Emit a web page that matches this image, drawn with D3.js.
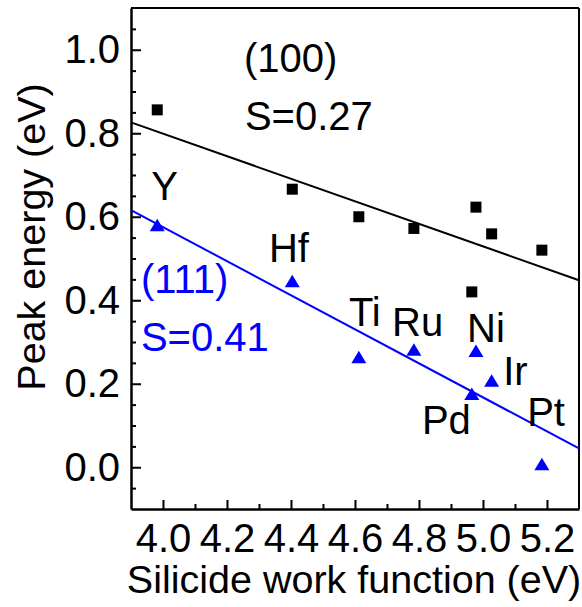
<!DOCTYPE html>
<html>
<head>
<meta charset="utf-8">
<script src="https://cdn.jsdelivr.net/npm/d3@7/dist/d3.min.js"></script>
<style>
  html, body { margin: 0; padding: 0; background: #fff; }
  svg { display: block; font-family: "Liberation Sans", Arial, Helvetica, sans-serif; }
</style>
</head>
<body>
<svg id="chart" width="582" height="607"></svg>
<script>
// ---- data ----
const metals        = ["Y", "Hf", "Ti", "Ru", "Pd", "Ni", "Ir", "Pt"];
const workFunction  = [3.982, 4.404, 4.612, 4.784, 4.965, 4.978, 5.027, 5.184];
const peak100       = [0.856, 0.666, 0.600, 0.572, 0.420, 0.623, 0.559, 0.520];
const peak111       = [0.575, 0.441, 0.259, 0.277, 0.171, 0.274, 0.203, 0.003];
const fit100        = [[3.9, 0.826], [5.3, 0.448]];
const fit111        = [[3.9, 0.616], [5.3, 0.045]];
const xTicks        = [4.0, 4.2, 4.4, 4.6, 4.8, 5.0, 5.2];
const xMinorTicks   = [4.1, 4.3, 4.5, 4.7, 4.9, 5.1];
const yTicks        = [0.0, 0.2, 0.4, 0.6, 0.8, 1.0];
const yMinorTicks   = [-0.05, 0.05, 0.1, 0.15, 0.25, 0.3, 0.35, 0.45, 0.5, 0.55, 0.65, 0.7, 0.75, 0.85, 0.9, 0.95, 1.05];
const xDomain       = [3.9, 5.3];
const yDomain       = [-0.1, 1.1];
const xTitle        = "Silicide work function (eV)";
const yTitle        = "Peak energy (eV)";
// label texts with anchor positions in data units
const labelText     = ["(100)", "S=0.27", "(111)", "S=0.41", "Y", "Hf", "Ti", "Ru", "Ni", "Ir", "Pd", "Pt"];
const labelX        = [4.253, 4.256, 3.931, 3.931, 3.963, 4.331, 4.581, 4.716, 4.950, 5.063, 4.809, 5.138];
const labelY        = [0.947, 0.808, 0.417, 0.278, 0.641, 0.492, 0.338, 0.314, 0.300, 0.197, 0.080, 0.099];
const labelSeries   = ["100", "100", "111", "111", "m", "m", "m", "m", "m", "m", "m", "m"];

// ---- layout ----
const mLeft = 131, mRight = 579, mTop = 8, mBottom = 509;
const svg = d3.select("#chart");
const x = d3.scaleLinear().domain(xDomain).range([mLeft, mRight]);
const y = d3.scaleLinear().domain(yDomain).range([mBottom, mTop]);
const BLUE = "#0000ff";
const FS = 40;

// frame (top & right)
svg.append("line").attr("x1", mLeft).attr("x2", mRight).attr("y1", mTop).attr("y2", mTop)
  .attr("stroke", "#000").attr("stroke-width", 2);
svg.append("line").attr("x1", mRight).attr("x2", mRight).attr("y1", mTop).attr("y2", mBottom)
  .attr("stroke", "#000").attr("stroke-width", 2);

// x axis major
const gx = svg.append("g").attr("transform", `translate(0,${mBottom})`)
  .call(d3.axisBottom(x).tickValues(xTicks).tickFormat(d3.format(".1f"))
    .tickSizeInner(-9).tickSizeOuter(0).tickPadding(15));
gx.select(".domain").attr("stroke-width", 2.5);
gx.selectAll(".tick line").attr("stroke-width", 2);
gx.selectAll(".tick text").attr("font-size", FS).attr("font-family", "Liberation Sans, Arial, sans-serif")
  .attr("fill", "#000").attr("dy", "0.71em");
// x axis minor
const gxm = svg.append("g").attr("transform", `translate(0,${mBottom})`)
  .call(d3.axisBottom(x).tickValues(xMinorTicks).tickFormat("").tickSizeInner(-5).tickSizeOuter(0));
gxm.select(".domain").remove();
gxm.selectAll(".tick line").attr("stroke-width", 2);

// y axis major
const gy = svg.append("g").attr("transform", `translate(${mLeft},0)`)
  .call(d3.axisLeft(y).tickValues(yTicks).tickFormat(d3.format(".1f"))
    .tickSizeInner(-10).tickSizeOuter(0).tickPadding(11));
gy.select(".domain").attr("stroke-width", 2.5);
gy.selectAll(".tick line").attr("stroke-width", 2);
gy.selectAll(".tick text").attr("font-size", FS).attr("font-family", "Liberation Sans, Arial, sans-serif")
  .attr("fill", "#000");
// y axis minor
const gym = svg.append("g").attr("transform", `translate(${mLeft},0)`)
  .call(d3.axisLeft(y).tickValues(yMinorTicks).tickFormat("").tickSizeInner(-5).tickSizeOuter(0));
gym.select(".domain").remove();
gym.selectAll(".tick line").attr("stroke-width", 2);

// axis titles
svg.append("text").attr("x", (mLeft + mRight) / 2 - 1).attr("y", 593)
  .attr("text-anchor", "middle").attr("font-size", 39.5).attr("fill", "#000").text(xTitle);
svg.append("text").attr("transform", `translate(45,${237}) rotate(-90)`)
  .attr("text-anchor", "middle").attr("font-size", 39.5).attr("fill", "#000").text(yTitle);

// fit lines
const line = d3.line().x(d => x(d[0])).y(d => y(d[1]));
svg.append("path").attr("d", line(fit100)).attr("fill", "none").attr("stroke", "#000").attr("stroke-width", 2);
svg.append("path").attr("d", line(fit111)).attr("fill", "none").attr("stroke", BLUE).attr("stroke-width", 2);

// squares (100)
const sq = 11;
svg.append("g").selectAll("rect").data(metals).join("rect")
  .attr("x", (d, i) => x(workFunction[i]) - sq / 2)
  .attr("y", (d, i) => y(peak100[i]) - sq / 2)
  .attr("width", sq).attr("height", sq).attr("fill", "#000");

// triangles (111)
const tw = 15, th = 12.5;
const tri = `M0,${-th * 2 / 3}L${tw / 2},${th / 3}L${-tw / 2},${th / 3}Z`;
svg.append("g").selectAll("path").data(metals).join("path")
  .attr("d", tri)
  .attr("transform", (d, i) => `translate(${x(workFunction[i])},${y(peak111[i])})`)
  .attr("fill", BLUE);

// labels
svg.append("g").selectAll("text").data(labelText).join("text")
  .attr("x", (d, i) => x(labelX[i]))
  .attr("y", (d, i) => y(labelY[i]))
  .attr("font-size", FS)
  .attr("fill", (d, i) => labelSeries[i] === "111" ? BLUE : "#000")
  .text(d => d);
</script>
</body>
</html>
